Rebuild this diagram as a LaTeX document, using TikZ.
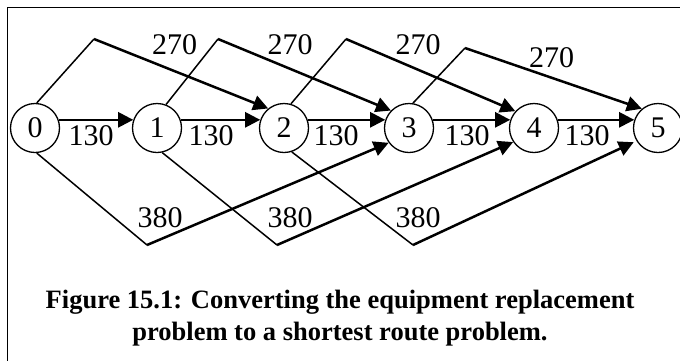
\documentclass[tikz,border=0pt]{standalone}
\usepackage{fontspec}
\setmainfont{Liberation Serif}
\usetikzlibrary{arrows.meta}

\begin{document}
\begin{tikzpicture}[x=1pt, y=-1pt, line join=round,
    stage/.style={circle, draw, line width=1.3pt, minimum size=49pt, inner sep=0pt, font=\fontsize{30}{36}\selectfont},
    cost/.style={inner sep=0pt, font=\fontsize{30}{36}\selectfont},
    stub/.style={line width=1.5pt},
    costarrow/.style={line width=2.5pt, -{Triangle[length=15pt, width=15pt]}},
    figcap/.style={anchor=base, inner sep=0pt, font=\fontsize{26.5}{32}\selectfont\bfseries}
]
    \useasboundingbox (0,0) rectangle (680,360);
    \draw [line width=1.4pt] (7.5,370) -- (7.5,7.5) -- (690,7.5);

    % stages
    \foreach \i/\x in {0/35, 1/157, 2/284, 3/409, 4/534, 5/658}
        \node [stage] (n\i) at (\x,128) {\i};

    % keep one more year: 130
    \foreach \i/\j in {0/1, 1/2, 2/3, 3/4, 4/5}
        \draw [costarrow] (n\i.19) -- (n\j.161);
    \foreach \i/\x in {0/91, 1/211, 2/336, 3/467, 4/587}
        \node [cost] (k\i) at (\x,136) {130};

    % keep two years: 270
    \coordinate (p0) at (94,39);
    \coordinate (p1) at (218,39);
    \coordinate (p2) at (346,39);
    \coordinate (p3) at (465,48);
    \draw [stub] (n0.86) -- (p0);
    \draw [costarrow] (p0) -- (n2.129);
    \draw [stub] (n1.69) -- (p1);
    \draw [costarrow] (p1) -- (n3.136);
    \draw [stub] (n2.74) -- (p2);
    \draw [costarrow] (p2) -- (n4.138);
    \draw [stub] (n3.81) -- (p3);
    \draw [costarrow] (p3) -- (n5.130);
    \node [cost] (t0) at (174.5,45) {270};
    \node [cost] (t1) at (290,45) {270};
    \node [cost] (t2) at (418,45) {270};
    \node [cost] (t3) at (551.5,57.5) {270};

    % keep three years: 380
    \coordinate (v0) at (147,245);
    \coordinate (v1) at (277,245);
    \coordinate (v2) at (413,245);
    \draw [stub] (n0.-86) -- (v0);
    \draw [costarrow] (v0) -- (n3.216);
    \draw [stub] (n1.-78) -- (v1);
    \draw [costarrow] (v1) -- (n4.214);
    \draw [stub] (n2.-72) -- (v2);
    \draw [costarrow, shorten >=3pt] (v2) -- (n5.211);
    \node [cost] (r0) at (160,218) {380};
    \node [cost] (r1) at (290,218) {380};
    \node [cost] (r2) at (418,218) {380};

    \node [figcap] (cap1) at (340,308) {Figure 15.1: Converting the equipment replacement};
    \node [figcap] (cap2) at (340,340) {problem to a shortest route problem.};
\end{tikzpicture}
\end{document}
